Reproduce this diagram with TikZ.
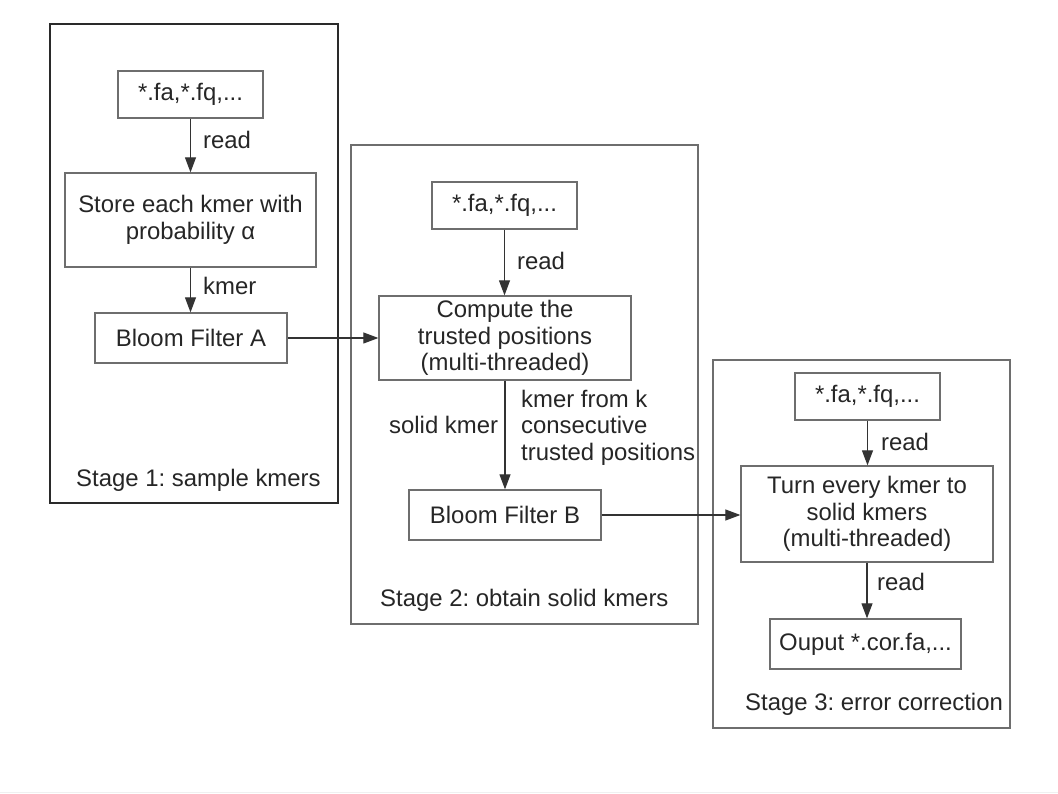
\documentclass[tikz,border=0pt]{standalone}
\usepackage{fontspec}
\setmainfont{Liberation Sans}
\usetikzlibrary{arrows.meta}
\definecolor{txt}{HTML}{262626}
\definecolor{bord}{HTML}{6E6E6E}
\definecolor{bord1}{HTML}{2A2A2A}
\frenchspacing
\begin{document}
\begin{tikzpicture}[x=1pt,y=-1pt,
  fnt/.style={font=\fontsize{23.9}{26.5}\selectfont},
  box/.style={fnt,draw=bord,line width=1.3pt,inner sep=0pt,align=center,text=txt},
  frame/.style={draw=bord,line width=1.3pt,inner sep=0pt},
  lab/.style={fnt,inner sep=0pt,anchor=base west,text=txt},
  arr/.style={draw=black!80,line width=1.1pt,-{Triangle[length=15pt,width=11pt]}}]
\useasboundingbox (0,0) rectangle (1058,794);
\fill[white] (0,0) rectangle (1058,794);
\draw[black!6,line width=1pt] (0,792.5) -- (1058,792.5);

% stage frames
\node[frame,draw=bord1,minimum width=288pt,minimum height=479pt] (s1) at (194,263.5) {};
\node[frame,minimum width=347pt,minimum height=479pt] (s2) at (524.5,384.5) {};
\node[frame,minimum width=297pt,minimum height=368pt] (s3) at (861.5,544) {};

% stage 1
\node[box,minimum width=145pt,minimum height=47pt] (fa1) at (190.5,94.5) {*.fa,*.fq,...};
\node[box,minimum width=251pt,minimum height=94pt] (store) at (190.5,220) {Store each kmer with\\probability α};
\node[box,minimum width=192pt,minimum height=50pt] (bloomA) at (191,338) {Bloom Filter A};
\node[lab] (lread1) at (203,149) {read};
\node[lab] (lkmer1) at (203,295) {kmer};
\node[lab] (st1) at (76,486) {Stage 1: sample kmers};

% stage 2
\node[box,minimum width=145pt,minimum height=47pt] (fa2) at (504.5,205.5) {*.fa,*.fq,...};
\node[box,minimum width=252pt,minimum height=84pt] (compute) at (505,338) {Compute the\\trusted positions\\(multi-threaded)};
\node[box,minimum width=192pt,minimum height=50pt] (bloomB) at (505,515) {Bloom Filter B};
\node[lab] (lread2) at (517,270) {read};
\node[lab] (lsolid) at (389,433) {solid kmer};
\node[lab] (k1) at (521,407) {kmer from k};
\node[lab] (k2) at (521,433) {consecutive};
\node[lab] (k3) at (521,460) {trusted positions};
\node[lab] (st2) at (380,606) {Stage 2: obtain solid kmers};

% stage 3
\node[box,minimum width=145pt,minimum height=47pt] (fa3) at (867.5,396.5) {*.fa,*.fq,...};
\node[box,minimum width=252pt,minimum height=96pt] (turn) at (867,514) {Turn every kmer to\\solid kmers\\(multi-threaded)};
\node[box,minimum width=191pt,minimum height=50pt] (out) at (865.5,644) {Ouput *.cor.fa,...};
\node[lab] (lread3) at (881,450) {read};
\node[lab] (lread4) at (877,590) {read};
\node[lab] (st3) at (745,710) {Stage 3: error correction};

% connectors
\draw[arr] (fa1.south) -- (fa1.south |- store.north);
\draw[arr] (store.south) -- (store.south |- bloomA.north);
\draw[arr] (bloomA.east) -- (compute.west);
\draw[arr] (fa2.south) -- (fa2.south |- compute.north);
\draw[arr] (compute.south) -- (compute.south |- bloomB.north);
\draw[arr] (bloomB.east) -- (bloomB.east -| turn.west);
\draw[arr] (fa3.south) -- (fa3.south |- turn.north);
\draw[arr] (turn.south) -- (turn.south |- out.north);
\end{tikzpicture}
\end{document}
